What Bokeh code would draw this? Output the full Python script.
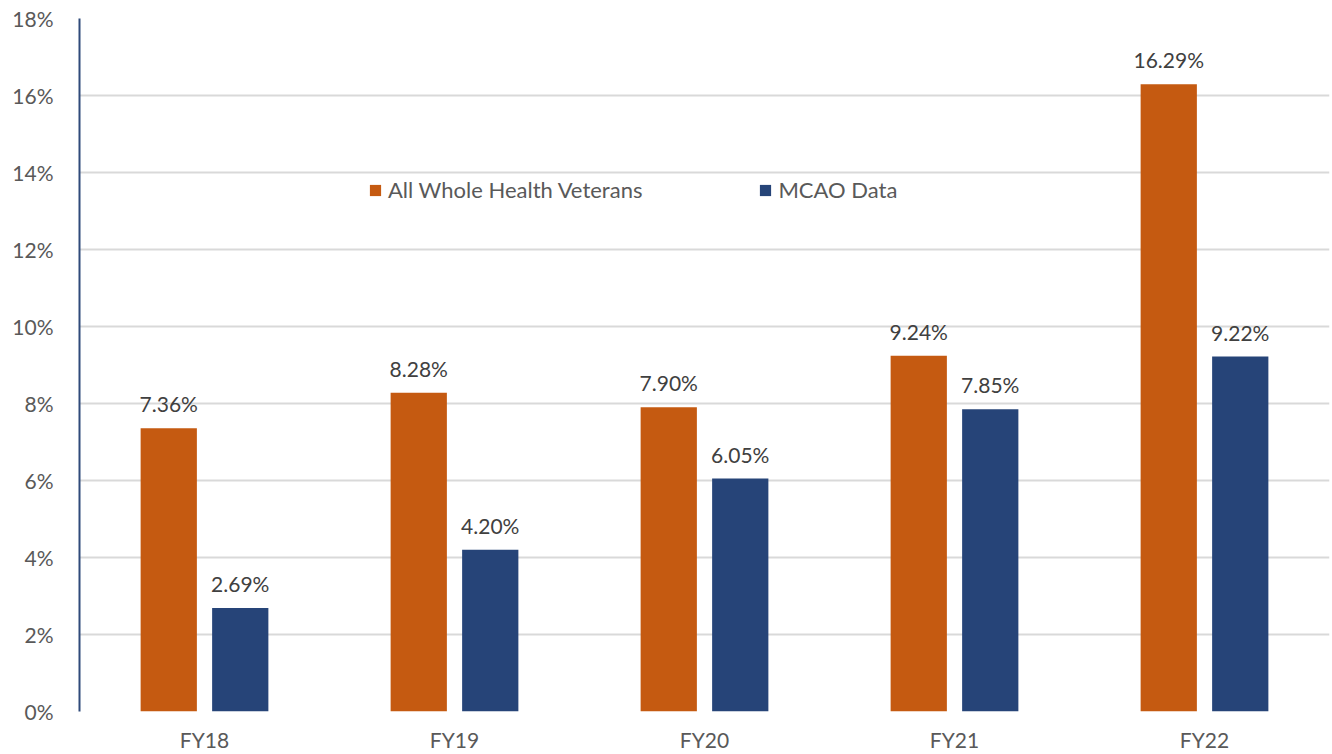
from bokeh.plotting import figure
from bokeh.models import ColumnDataSource, FactorRange, Range1d, Legend, LegendItem, NumeralTickFormatter, FixedTicker, LabelSet
from bokeh.transform import dodge
from bokeh.embed import file_html
from bokeh.resources import INLINE
from bokeh.core.properties import value

years = ["FY18", "FY19", "FY20", "FY21", "FY22"]
all_whole_health = [7.36, 8.28, 7.90, 9.24, 16.29]
mcao = [2.69, 4.20, 6.05, 7.85, 9.22]
series_names = ["All Whole Health Veterans", "MCAO Data"]
y_ticks = [0, 2, 4, 6, 8, 10, 12, 14, 16, 18]

orange = "#C55A11"
blue = "#264478"
font = "Lato"
fs = "21px"

src = ColumnDataSource(dict(
    x=years,
    a=all_whole_health,
    b=mcao,
    al=[f"{v:.2f}%" for v in all_whole_health],
    bl=[f"{v:.2f}%" for v in mcao],
))

p = figure(width=1332, height=754, x_range=FactorRange(*years, range_padding=0),
           y_range=Range1d(0, 18), output_backend="svg", toolbar_location=None,
           min_border_left=79, min_border_right=3, min_border_top=18, min_border_bottom=41)
p.outline_line_color = None

r1 = p.vbar(x=dodge("x", -0.143, range=p.x_range), top="a", width=0.225, source=src,
            fill_color=orange, line_color=None)
r2 = p.vbar(x=dodge("x", 0.143, range=p.x_range), top="b", width=0.225, source=src,
            fill_color=blue, line_color=None)

for col, lab, off in (("a", "al", -0.143), ("b", "bl", 0.143)):
    ls = LabelSet(x=dodge("x", off, range=p.x_range), y=col, text=lab, source=src,
                  text_align="center", text_baseline="bottom", y_offset=12,
                  text_font=value(font), text_font_size=fs, text_color="#404040")
    p.add_layout(ls)

p.yaxis.ticker = FixedTicker(ticks=y_ticks)
p.yaxis.formatter = NumeralTickFormatter(format="0")
p.yaxis.major_label_overrides = {t: f"{t}%" for t in y_ticks}
p.yaxis.major_tick_line_color = None
p.yaxis.minor_tick_line_color = None
p.yaxis.axis_line_color = "#2F4A7A"
p.yaxis.axis_line_width = 2
p.yaxis.major_label_standoff = 20
p.yaxis.major_label_text_font = font
p.yaxis.major_label_text_font_size = fs
p.yaxis.major_label_text_color = "#595959"

p.xaxis.axis_line_color = None
p.xaxis.major_tick_line_color = None
p.xaxis.minor_tick_line_color = None
p.xaxis.major_label_standoff = 9
p.xaxis.major_label_text_font = font
p.xaxis.major_label_text_font_size = fs
p.xaxis.major_label_text_color = "#595959"

p.xgrid.grid_line_color = None
p.ygrid.grid_line_color = "#D9D9D9"
p.ygrid.grid_line_width = 2

legend = Legend(items=[LegendItem(label=series_names[0], renderers=[r1]),
                       LegendItem(label=series_names[1], renderers=[r2])],
                location=(289, 508), orientation="horizontal",
                padding=0, margin=0, spacing=116, glyph_width=14, glyph_height=14,
                label_standoff=6, label_text_font=font, label_text_font_size="22px",
                label_text_color="#595959", border_line_color=None, background_fill_alpha=0)
p.add_layout(legend, "center")

open("out.html", "w").write(file_html(p, INLINE))
